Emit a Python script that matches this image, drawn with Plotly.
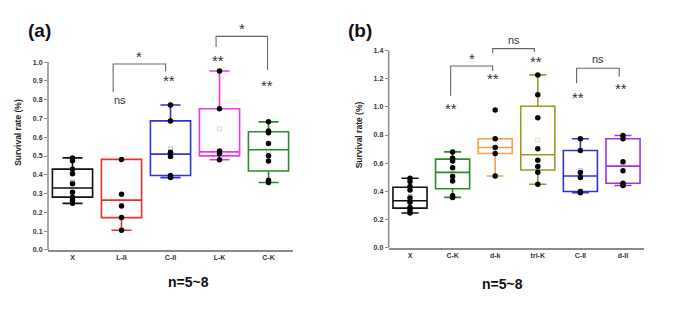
import numpy as np
import plotly.graph_objects as go

# ---------------- data: panel (a) ----------------
cats_a = ["X", "L-II", "C-II", "L-K", "C-K"]
colors_a = ["#111111", "#e8302e", "#2b35d8", "#e83be8", "#2b8a2b"]
pts_a = [
    [0.490, 0.475, 0.430, 0.406, 0.353, 0.307, 0.281, 0.264, 0.248],
    [0.482, 0.297, 0.234, 0.172, 0.105],
    [0.772, 0.687, 0.520, 0.510, 0.498, 0.396, 0.385],
    [0.953, 0.752, 0.527, 0.512, 0.480],
    [0.682, 0.633, 0.624, 0.566, 0.501, 0.473, 0.371, 0.359],
]
q1_a = [0.281, 0.172, 0.396, 0.501, 0.420]
med_a = [0.330, 0.265, 0.510, 0.522, 0.533]
q3_a = [0.430, 0.482, 0.687, 0.752, 0.629]
lo_a = [0.248, 0.105, 0.385, 0.480, 0.359]
hi_a = [0.490, 0.482, 0.772, 0.953, 0.682]
yticks_a = [0.0, 0.1, 0.2, 0.3, 0.4, 0.5, 0.6, 0.7, 0.8, 0.9, 1.0]
# significance marks (category index, y, text)
marks_a = [(1, 0.80, "ns"), (2, 0.90, "**"), (3, 1.01, "**"), (4, 0.875, "**")]
# brackets: x0, x1, y_left, y_right, y_top, label
brackets_a = [(0.83, 1.90, 0.84, 0.95, 0.99, "*"),
              (2.93, 3.98, 1.081, 0.958, 1.137, "*")]

# ---------------- data: panel (b) ----------------
cats_b = ["X", "C-K", "d-k", "tri-K", "C-II", "d-II"]
colors_b = ["#111111", "#2b8a2b", "#f5a04a", "#9c9a22", "#2b35d8", "#9b35e8"]
pts_b = [
    [0.493, 0.469, 0.434, 0.410, 0.352, 0.322, 0.286, 0.263, 0.246],
    [0.680, 0.635, 0.615, 0.568, 0.505, 0.474, 0.368, 0.357],
    [0.978, 0.774, 0.711, 0.669, 0.509],
    [1.227, 1.086, 0.922, 0.702, 0.621, 0.577, 0.535, 0.450],
    [0.774, 0.690, 0.533, 0.498, 0.399, 0.390],
    [0.797, 0.774, 0.610, 0.547, 0.457, 0.441],
]
q1_b = [0.281, 0.418, 0.669, 0.551, 0.399, 0.457]
med_b = [0.333, 0.535, 0.711, 0.660, 0.509, 0.579]
q3_b = [0.429, 0.629, 0.774, 1.004, 0.690, 0.774]
lo_b = [0.246, 0.357, 0.509, 0.450, 0.390, 0.441]
hi_b = [0.493, 0.680, 0.774, 1.227, 0.774, 0.797]
yticks_b = [0.0, 0.2, 0.4, 0.6, 0.8, 1.0, 1.2, 1.4]
marks_b = [(1, 0.99, "**"), (2, 1.20, "**"), (3, 1.32, "**"),
           (4, 1.065, "**"), (5, 1.13, "**")]
brackets_b = [(0.955, 1.94, 1.079, 1.255, 1.29, "*"),
              (1.94, 2.92, 1.38, 1.39, 1.414, "ns"),
              (3.91, 4.91, 1.168, 1.215, 1.274, "ns")]

FONT = "Liberation Sans, Arial, sans-serif"
AXC = "#8a8a8a"
BRC = "#666666"

fig = go.Figure()


def txt_font(t):
    if t == "ns":
        return dict(family=FONT, size=11, color="#333333")
    return dict(family=FONT, size=15, color="#333333")


def add_panel(xa, ya, cats, colors, pts, q1, med, q3, lo, hi, marks, brackets, width):
    for i, c in enumerate(cats):
        fig.add_trace(go.Box(
            x=[i], q1=[q1[i]], median=[med[i]], q3=[q3[i]],
            lowerfence=[lo[i]], upperfence=[hi[i]],
            width=width, fillcolor="rgba(0,0,0,0)",
            line=dict(color=colors[i], width=1.6),
            boxpoints=False, xaxis=xa, yaxis=ya, showlegend=False,
            hoverinfo="skip"))
        fig.add_trace(go.Scatter(
            x=[i], y=[float(np.mean(pts[i]))], mode="markers",
            marker=dict(symbol="square-open", size=4, color=colors[i],
                        opacity=0.3, line=dict(width=1)),
            xaxis=xa, yaxis=ya, showlegend=False, hoverinfo="skip"))
        fig.add_trace(go.Scatter(
            x=[i] * len(pts[i]), y=pts[i], mode="markers",
            marker=dict(color="black", size=5.5),
            xaxis=xa, yaxis=ya, showlegend=False, cliponaxis=False))
    for (ci, yv, t) in marks:
        fig.add_annotation(x=ci, y=yv, xref=xa, yref=ya, text=t, showarrow=False,
                           xshift=-2, font=txt_font(t))
    for (x0, x1, yl, yr, yt, t) in brackets:
        fig.add_trace(go.Scatter(
            x=[x0, x0, x1, x1], y=[yl, yt, yt, yr], mode="lines",
            line=dict(color=BRC, width=1.1), xaxis=xa, yaxis=ya,
            showlegend=False, hoverinfo="skip", cliponaxis=False))
        fig.add_annotation(x=(x0 + x1) / 2, y=yt, xref=xa, yref=ya, text=t,
                           showarrow=False, yanchor="bottom",
                           yshift=1 if t == "ns" else -3,
                           font=txt_font(t))


add_panel("x", "y", cats_a, colors_a, pts_a, q1_a, med_a, q3_a, lo_a, hi_a,
          marks_a, brackets_a, 0.82)
add_panel("x2", "y2", cats_b, colors_b, pts_b, q1_b, med_b, q3_b, lo_b, hi_b,
          marks_b, brackets_b, 0.80)

tickfont = dict(family=FONT, size=7, color="#333333", weight="bold")
titlefont = dict(family=FONT, size=8.5, color="#222222", weight="bold")


def xaxis(domain, cats, anchor):
    return dict(domain=domain, range=[-0.5, len(cats) - 0.5], anchor=anchor,
                tickvals=list(range(len(cats))), ticktext=cats,
                showline=True, linecolor=AXC, linewidth=1.5, ticks="",
                showgrid=False, zeroline=False, tickfont=tickfont, fixedrange=True)


def yaxis(domain, rng, ticks, anchor, fmt, standoff):
    return dict(domain=domain, range=rng, anchor=anchor, tickvals=ticks,
                ticktext=[fmt.format(v) for v in ticks],
                showline=False, ticks="outside", ticklen=3, tickwidth=1,
                tickcolor=AXC, showgrid=False, zeroline=False, tickfont=tickfont,
                title=dict(text="Survival rate (%)", font=titlefont, standoff=standoff))


fig.update_layout(
    width=679, height=318, margin=dict(l=0, r=0, t=0, b=0),
    paper_bgcolor="white", plot_bgcolor="white",
    xaxis=xaxis([48 / 679, 293 / 679], cats_a, "y"),
    yaxis=yaxis([1 - 252.3 / 318, 1 - 15.3 / 318], [0, 1.25], yticks_a, "x", "{:.1f}", 9),
    xaxis2=xaxis([388.7 / 679, 644.3 / 679], cats_b, "y2"),
    yaxis2=yaxis([1 - 250 / 318, 1 - 22.6 / 318], [0, 1.6], yticks_b, "x2", "{:.1f}", 9),
)

# y axis lines limited to the tick range
fig.add_shape(type="line", xref="x domain", yref="y", x0=0, x1=0, y0=0,
              y1=yticks_a[-1], line=dict(color=AXC, width=1.5))
fig.add_shape(type="line", xref="x2 domain", yref="y2", x0=0, x1=0, y0=0,
              y1=yticks_b[-1], line=dict(color=AXC, width=1.5))

# panel labels and n text
fig.add_annotation(x=26 / 679, y=1 - 18 / 318, xref="paper", yref="paper",
                   text="<b>(a)</b>", showarrow=False,
                   font=dict(family=FONT, size=19, color="#111111"))
fig.add_annotation(x=360 / 679, y=1 - 18 / 318, xref="paper", yref="paper",
                   text="<b>(b)</b>", showarrow=False,
                   font=dict(family=FONT, size=19, color="#111111"))
fig.add_annotation(x=166 / 679, y=1 - 295 / 318, xref="paper", yref="paper",
                   text="<b>n=5~8</b>", showarrow=False,
                   font=dict(family=FONT, size=14, color="#111111"))
fig.add_annotation(x=525 / 679, y=1 - 297 / 318, xref="paper", yref="paper",
                   text="<b>n=5~8</b>", showarrow=False,
                   font=dict(family=FONT, size=14, color="#111111"))

fig.write_html("out.html")
